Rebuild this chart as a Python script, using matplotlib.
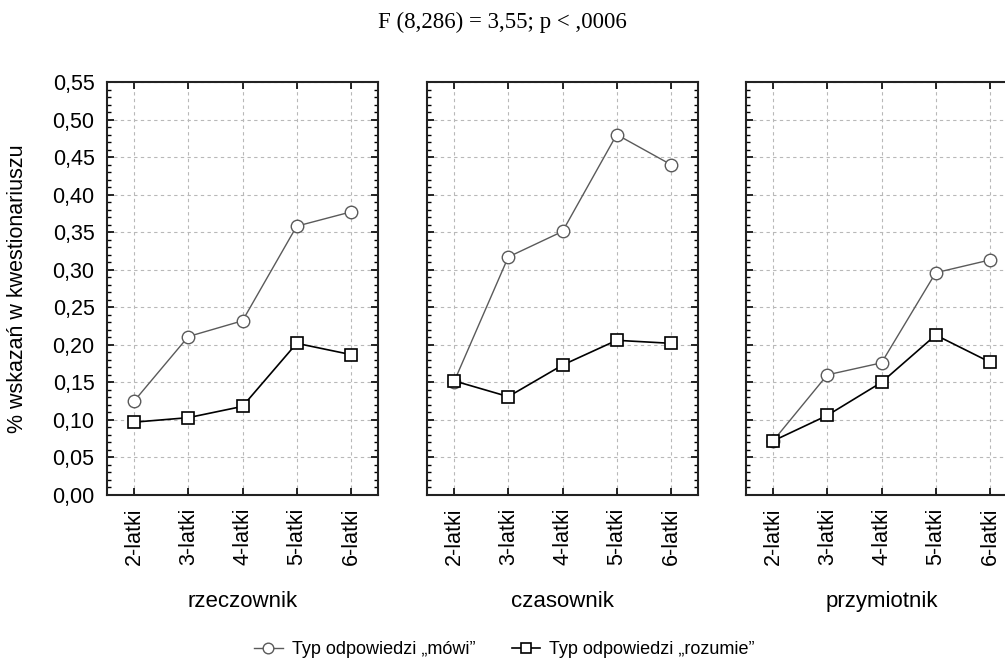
import matplotlib
matplotlib.use("Agg")
import matplotlib.pyplot as plt
from matplotlib.ticker import MultipleLocator, FuncFormatter

# data
age_groups = ["2-latki", "3-latki", "4-latki", "5-latki", "6-latki"]
parts_of_speech = ["rzeczownik", "czasownik", "przymiotnik"]

mowi_rzeczownik = [0.125, 0.211, 0.232, 0.358, 0.377]
mowi_czasownik = [0.151, 0.317, 0.351, 0.480, 0.440]
mowi_przymiotnik = [0.072, 0.160, 0.176, 0.296, 0.313]

rozumie_rzeczownik = [0.097, 0.103, 0.118, 0.202, 0.187]
rozumie_czasownik = [0.152, 0.131, 0.173, 0.206, 0.202]
rozumie_przymiotnik = [0.072, 0.106, 0.150, 0.213, 0.177]

mowi = [mowi_rzeczownik, mowi_czasownik, mowi_przymiotnik]
rozumie = [rozumie_rzeczownik, rozumie_czasownik, rozumie_przymiotnik]

title_text = "F (8,286) = 3,55; p < ,0006"
y_label = "% wskazań w kwestionariuszu"
legend_labels = ["Typ odpowiedzi \u201emówi\u201d", "Typ odpowiedzi \u201erozumie\u201d"]

plt.rcParams['font.family'] = ['Liberation Sans', 'DejaVu Sans']

W, H = 1005, 662
fig = plt.figure(figsize=(W / 100, H / 100), dpi=100)

# panel placement in pixels (third panel runs past the right edge, as in the source)
lefts = [107, 427, 746]
panel_w = 271
bottom_px, top_px = 495, 82

x = list(range(len(age_groups)))
handles = None
for i, name in enumerate(parts_of_speech):
    ax = fig.add_axes([lefts[i] / W, 1 - bottom_px / H, panel_w / W, (bottom_px - top_px) / H])
    l1, = ax.plot(x, mowi[i], color='#5a5a5a', lw=1.0, marker='o', ms=9,
                  mfc='white', mec='#5a5a5a', mew=1.0, zorder=3)
    l2, = ax.plot(x, rozumie[i], color='black', lw=1.2, marker='s', ms=8.5,
                  mfc='white', mec='black', mew=1.2, zorder=4)
    handles = [l1, l2]

    ax.set_xlim(-0.5, len(age_groups) - 0.5)
    ax.set_ylim(0, 0.55)
    ax.set_xticks(x)
    ax.set_xticklabels(age_groups, rotation=90, fontsize=15.5)
    ax.yaxis.set_major_locator(MultipleLocator(0.05))
    ax.yaxis.set_minor_locator(MultipleLocator(0.01))
    ax.yaxis.set_major_formatter(FuncFormatter(lambda v, p: f"{v:.2f}".replace('.', ',')))
    ax.tick_params(axis='both', which='major', direction='in', length=5, width=1.2,
                   top=True, right=True, color='black')
    ax.tick_params(axis='y', which='minor', direction='in', length=3, width=1.0,
                   left=True, right=True)
    ax.tick_params(axis='x', pad=9)
    ax.tick_params(axis='y', labelsize=15.5, pad=9)
    if i > 0:
        ax.tick_params(axis='y', labelleft=False)
    else:
        ax.set_ylabel(y_label, fontsize=15.5)
        ax.yaxis.set_label_coords(-0.29, 0.5)

    ax.grid(True, color='#b8b8b8', linestyle=(0, (3, 3)), lw=0.8)
    ax.set_axisbelow(True)
    for s in ax.spines.values():
        s.set_linewidth(1.5)
        s.set_color('#222222')

    ax.text(0.5, -0.259, name, transform=ax.transAxes, ha='center', va='center',
            fontsize=16)

fig.text(0.5, 1 - 22 / H, title_text, ha='center', va='center', fontsize=16.5,
         family='Liberation Serif')

fig.legend(handles, legend_labels, loc='center', bbox_to_anchor=(0.502, 1 - 650 / H),
           ncol=2, frameon=False, fontsize=13, handlelength=1.6, columnspacing=2.0,
           handletextpad=0.5, markerscale=0.85)

fig.savefig("out.png", dpi=100)
